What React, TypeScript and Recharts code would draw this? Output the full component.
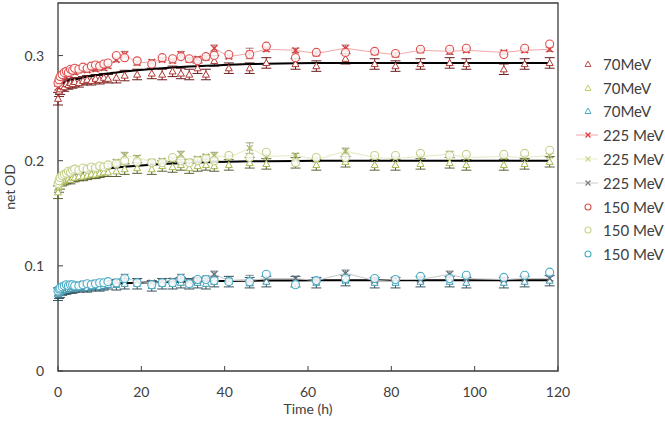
import React from 'react'
import { ScatterChart, Scatter, XAxis, YAxis, ErrorBar, ReferenceArea } from 'recharts'

// time points (h)
const times = [0, 0.25, 0.5, 1, 1.5, 2, 2.5, 3, 3.5, 4, 5, 6, 7, 8, 9, 10, 11, 12, 14, 16, 19, 22.5, 25, 27.5, 29.5, 31.5, 33.5, 35.5, 37.5, 41, 46, 50, 57, 62, 69, 76, 81, 87, 94, 98, 107, 112, 118]

const xTicks = [0, 20, 40, 60, 80, 100, 120]
const yTicks = [0, 0.1, 0.2, 0.3]

// fitted curves
const fitRed = [0.265, 0.268, 0.270, 0.273, 0.274, 0.275, 0.276, 0.2765, 0.277, 0.2775, 0.278, 0.279, 0.280, 0.2806, 0.2812, 0.2818, 0.2824, 0.283, 0.2838, 0.2848, 0.286, 0.2872, 0.288, 0.2886, 0.2891, 0.2895, 0.2899, 0.2903, 0.2906, 0.2912, 0.2919, 0.2923, 0.2927, 0.2929, 0.293, 0.293, 0.293, 0.293, 0.293, 0.293, 0.293, 0.293, 0.293]
const fitGreen = [0.176, 0.179, 0.181, 0.183, 0.184, 0.185, 0.186, 0.1865, 0.187, 0.1875, 0.188, 0.189, 0.1897, 0.1904, 0.191, 0.1916, 0.1921, 0.1926, 0.1935, 0.1943, 0.1953, 0.1962, 0.1968, 0.1973, 0.1977, 0.198, 0.1983, 0.1986, 0.1988, 0.1991, 0.1994, 0.1996, 0.1998, 0.1999, 0.2, 0.2, 0.2, 0.2, 0.2, 0.2, 0.2, 0.2, 0.2]
const fitBlue = [0.074, 0.0755, 0.0765, 0.0775, 0.078, 0.0785, 0.079, 0.0793, 0.0796, 0.0799, 0.0804, 0.0809, 0.0813, 0.0817, 0.082, 0.0823, 0.0826, 0.0828, 0.0832, 0.0835, 0.0839, 0.0843, 0.0846, 0.0848, 0.085, 0.0852, 0.0853, 0.0855, 0.0856, 0.0857, 0.0859, 0.086, 0.0861, 0.0862, 0.0862, 0.0862, 0.0862, 0.0862, 0.0862, 0.0862, 0.0862, 0.0862, 0.0862]

// 70MeV (triangles)
const tri70Red = [0.259, 0.266, 0.268, 0.271, 0.270, 0.273, 0.272, 0.274, 0.273, 0.275, 0.274, 0.276, 0.277, 0.276, 0.278, 0.277, 0.279, 0.278, 0.279, 0.281, 0.282, 0.283, 0.282, 0.285, 0.283, 0.282, 0.288, 0.282, 0.295, 0.288, 0.288, 0.293, 0.292, 0.290, 0.297, 0.292, 0.290, 0.292, 0.293, 0.292, 0.287, 0.292, 0.293]
const tri70Green = [0.170, 0.175, 0.178, 0.180, 0.181, 0.182, 0.183, 0.182, 0.184, 0.184, 0.185, 0.185, 0.186, 0.187, 0.187, 0.188, 0.189, 0.189, 0.190, 0.192, 0.193, 0.192, 0.195, 0.194, 0.196, 0.193, 0.195, 0.196, 0.195, 0.196, 0.198, 0.197, 0.198, 0.196, 0.199, 0.196, 0.196, 0.197, 0.198, 0.196, 0.196, 0.197, 0.199]
const tri70Blue = [0.073, 0.074, 0.075, 0.076, 0.077, 0.077, 0.078, 0.078, 0.078, 0.079, 0.079, 0.080, 0.079, 0.080, 0.081, 0.080, 0.081, 0.082, 0.082, 0.083, 0.083, 0.081, 0.083, 0.083, 0.084, 0.083, 0.084, 0.083, 0.085, 0.085, 0.084, 0.085, 0.085, 0.084, 0.086, 0.084, 0.084, 0.085, 0.085, 0.084, 0.084, 0.085, 0.086]

// 225 MeV (crosses)
const x225Red = [0.270, 0.275, 0.278, 0.280, 0.281, 0.283, 0.282, 0.284, 0.285, 0.284, 0.286, 0.287, 0.286, 0.288, 0.287, 0.289, 0.288, 0.290, 0.296, 0.301, 0.293, 0.294, 0.296, 0.295, 0.301, 0.296, 0.297, 0.298, 0.307, 0.299, 0.302, 0.306, 0.305, 0.302, 0.307, 0.303, 0.301, 0.305, 0.304, 0.305, 0.303, 0.305, 0.306]
const x225Green = [0.175, 0.179, 0.182, 0.185, 0.186, 0.187, 0.188, 0.188, 0.189, 0.190, 0.190, 0.191, 0.192, 0.193, 0.192, 0.194, 0.195, 0.195, 0.199, 0.205, 0.203, 0.199, 0.200, 0.201, 0.206, 0.199, 0.202, 0.204, 0.205, 0.203, 0.212, 0.204, 0.205, 0.201, 0.209, 0.203, 0.202, 0.204, 0.206, 0.203, 0.204, 0.203, 0.205]
const x225Gray = [0.075, 0.077, 0.078, 0.079, 0.080, 0.080, 0.081, 0.081, 0.082, 0.082, 0.082, 0.083, 0.082, 0.083, 0.084, 0.083, 0.084, 0.084, 0.085, 0.089, 0.085, 0.084, 0.085, 0.086, 0.089, 0.085, 0.086, 0.088, 0.092, 0.086, 0.086, 0.088, 0.088, 0.086, 0.093, 0.086, 0.087, 0.087, 0.092, 0.088, 0.087, 0.088, 0.088]

// 150 MeV (circles)
const c150Red = [0.274, 0.277, 0.280, 0.282, 0.284, 0.285, 0.284, 0.287, 0.286, 0.288, 0.287, 0.289, 0.288, 0.290, 0.291, 0.290, 0.292, 0.293, 0.300, 0.298, 0.295, 0.292, 0.298, 0.297, 0.299, 0.297, 0.295, 0.299, 0.300, 0.301, 0.301, 0.309, 0.298, 0.303, 0.303, 0.304, 0.302, 0.306, 0.306, 0.307, 0.301, 0.307, 0.311]
const c150Green = [0.178, 0.181, 0.184, 0.186, 0.187, 0.188, 0.190, 0.189, 0.191, 0.192, 0.191, 0.193, 0.192, 0.194, 0.193, 0.195, 0.194, 0.196, 0.197, 0.200, 0.199, 0.198, 0.198, 0.203, 0.200, 0.198, 0.200, 0.202, 0.200, 0.205, 0.203, 0.208, 0.198, 0.203, 0.203, 0.205, 0.205, 0.207, 0.205, 0.206, 0.206, 0.207, 0.210]
const c150Blue = [0.076, 0.078, 0.079, 0.080, 0.081, 0.082, 0.081, 0.082, 0.082, 0.081, 0.081, 0.082, 0.083, 0.082, 0.083, 0.084, 0.084, 0.085, 0.084, 0.088, 0.084, 0.082, 0.084, 0.084, 0.088, 0.083, 0.087, 0.087, 0.086, 0.085, 0.085, 0.092, 0.082, 0.086, 0.088, 0.088, 0.087, 0.090, 0.088, 0.091, 0.089, 0.091, 0.094]

// error bar half-widths
const errTri = [0.006, 0.005, 0.005, 0.004, 0.004, 0.004, 0.004, 0.004, 0.004, 0.004, 0.004, 0.004, 0.004, 0.004, 0.004, 0.004, 0.004, 0.004, 0.005, 0.005, 0.005, 0.005, 0.005, 0.005, 0.005, 0.005, 0.005, 0.005, 0.005, 0.005, 0.005, 0.005, 0.005, 0.005, 0.005, 0.005, 0.005, 0.005, 0.005, 0.005, 0.005, 0.005, 0.005]
const errX = [0.003, 0.002, 0.002, 0.002, 0.002, 0.002, 0.002, 0.002, 0.002, 0.002, 0.002, 0.002, 0.002, 0.002, 0.002, 0.002, 0.002, 0.002, 0.002, 0.003, 0.002, 0.002, 0.002, 0.002, 0.003, 0.002, 0.002, 0.002, 0.003, 0.002, 0.005, 0.002, 0.002, 0.002, 0.003, 0.002, 0.002, 0.002, 0.003, 0.002, 0.002, 0.002, 0.002]

const mk = (vals: number[], err?: number[]) => times.map((t, i) => ({ t, v: vals[i], e: err ? err[i] : 0 }))

const FONT = 'Lato, "Open Sans", sans-serif'
const TXT = '#404040'

const Tri = (color: string, r = 3.5) => (p: any) => (
  <path d={`M${p.cx},${p.cy - r}L${p.cx + r},${p.cy + r * 0.75}L${p.cx - r},${p.cy + r * 0.75}Z`} fill="#fff" stroke={color} strokeWidth={1} />
)
const Cross = (color: string, r = 3) => (p: any) => (
  <path d={`M${p.cx - r},${p.cy - r}L${p.cx + r},${p.cy + r}M${p.cx - r},${p.cy + r}L${p.cx + r},${p.cy - r}`} stroke={color} strokeWidth={1.2} fill="none" />
)
const Circ = (color: string, r = 4) => (p: any) => (
  <circle cx={p.cx} cy={p.cy} r={r} fill="#fff" fillOpacity={0.85} stroke={color} strokeWidth={1.1} />
)
const NoDot = () => <g />

const XTick = (p: any) => (
  <g>
    <line x1={p.x} y1={p.y} x2={p.x} y2={p.y - 5} stroke={TXT} strokeWidth={1} />
    <text x={p.x} y={p.y + 26} textAnchor="middle" fill={TXT} fontSize={14} fontFamily={FONT}>{p.payload.value}</text>
  </g>
)
const YTick = (p: any) => (
  <g>
    <line x1={p.x} y1={p.y} x2={p.x + 5} y2={p.y} stroke={TXT} strokeWidth={1} />
    <text x={p.x - 14} y={p.y + 5} textAnchor="end" fill={TXT} fontSize={14} fontFamily={FONT}>{p.payload.value}</text>
  </g>
)

const legendItems = [
  { name: '70MeV', kind: 'tri', color: '#C0504D' },
  { name: '70MeV', kind: 'tri', color: '#C3CF6A' },
  { name: '70MeV', kind: 'tri', color: '#4BACC6' },
  { name: '225 MeV', kind: 'x', color: '#E33B3B', line: '#F2A7A7' },
  { name: '225 MeV', kind: 'x', color: '#C9D98F', line: '#E6EDC8' },
  { name: '225 MeV', kind: 'x', color: '#7F7F7F', line: '#CCCCCC' },
  { name: '150 MeV', kind: 'o', color: '#D9534F' },
  { name: '150 MeV', kind: 'o', color: '#CCD68E' },
  { name: '150 MeV', kind: 'o', color: '#4BACC6' },
]

function LegendBox() {
  return (
    <div style={{ position: 'absolute', left: 574, top: 52, fontFamily: FONT, fontSize: 15, color: TXT }}>
      {legendItems.map((it, i) => (
        <div key={i} style={{ display: 'flex', alignItems: 'center', height: 23.8 }}>
          <svg width={26} height={14} style={{ marginRight: 3 }}>
            {it.line && <line x1={2} y1={7} x2={24} y2={7} stroke={it.line} strokeWidth={1} />}
            {it.kind === 'tri' && <path d="M14,4L17,9.5L11,9.5Z" fill="#fff" stroke={it.color} strokeWidth={1} />}
            {it.kind === 'x' && <path d="M11.5,4.5L16.5,9.5M11.5,9.5L16.5,4.5" stroke={it.color} strokeWidth={1.3} />}
            {it.kind === 'o' && <circle cx={14} cy={7} r={3} fill="#fff" stroke={it.color} strokeWidth={1.1} />}
          </svg>
          <span>{it.name}</span>
        </div>
      ))}
    </div>
  )
}

export default function App() {
  return (
    <div style={{ position: 'absolute', left: 0, top: 0, width: 665, height: 425, background: '#fff' }}>
      <ScatterChart width={665} height={425} margin={{ top: 3, right: 107, bottom: 0, left: 0 }}>
        <XAxis
          type="number"
          dataKey="t"
          domain={[0, 120]}
          ticks={xTicks}
          height={54}
          axisLine={false}
          tickLine={false}
          tickSize={0}
          tickMargin={0}
          tick={XTick}
          interval={0}
        />
        <YAxis
          type="number"
          dataKey="v"
          domain={[0, 0.35]}
          ticks={yTicks}
          width={58}
          axisLine={false}
          tickLine={false}
          tickSize={0}
          tickMargin={0}
          tick={YTick}
          interval={0}
        />
        <ReferenceArea x1={0} x2={120} y1={0} y2={0.35} fill="none" stroke="#3A3A3A" strokeWidth={1.3} />

        <Scatter data={mk(fitRed)} line={{ stroke: '#000', strokeWidth: 2 }} lineType="joint" shape={NoDot} isAnimationActive={false} />
        <Scatter data={mk(fitGreen)} line={{ stroke: '#000', strokeWidth: 2 }} lineType="joint" shape={NoDot} isAnimationActive={false} />
        <Scatter data={mk(fitBlue)} line={{ stroke: '#000', strokeWidth: 2 }} lineType="joint" shape={NoDot} isAnimationActive={false} />

        <Scatter data={mk(tri70Red, errTri)} shape={Tri('#B03A36')} isAnimationActive={false}>
          <ErrorBar dataKey="e" direction="y" width={5} stroke="#6B1E1E" strokeWidth={1} />
        </Scatter>
        <Scatter data={mk(tri70Green, errTri)} shape={Tri('#A9B84C')} isAnimationActive={false}>
          <ErrorBar dataKey="e" direction="y" width={5} stroke="#5E6138" strokeWidth={1} />
        </Scatter>
        <Scatter data={mk(tri70Blue, errTri)} shape={Tri('#3F97B0')} isAnimationActive={false}>
          <ErrorBar dataKey="e" direction="y" width={5} stroke="#34505E" strokeWidth={1} />
        </Scatter>

        <Scatter data={mk(x225Red, errX)} line={{ stroke: '#F2A7A7', strokeWidth: 1 }} lineType="joint" shape={Cross('#D93535')} isAnimationActive={false}>
          <ErrorBar dataKey="e" direction="y" width={4} stroke="#A05050" strokeWidth={0.8} />
        </Scatter>
        <Scatter data={mk(x225Green, errX)} line={{ stroke: '#E2EAC2', strokeWidth: 1 }} lineType="joint" shape={Cross('#A8B86A')} isAnimationActive={false}>
          <ErrorBar dataKey="e" direction="y" width={4} stroke="#8A8F60" strokeWidth={0.8} />
        </Scatter>
        <Scatter data={mk(x225Gray, errX)} line={{ stroke: '#C8C8C8', strokeWidth: 1 }} lineType="joint" shape={Cross('#5F6F7A')} isAnimationActive={false}>
          <ErrorBar dataKey="e" direction="y" width={4} stroke="#5A6A76" strokeWidth={0.8} />
        </Scatter>

        <Scatter data={mk(c150Red)} shape={Circ('#E05050')} isAnimationActive={false} />
        <Scatter data={mk(c150Green)} shape={Circ('#C5D08A')} isAnimationActive={false} />
        <Scatter data={mk(c150Blue)} shape={Circ('#4BACC6')} isAnimationActive={false} />
      </ScatterChart>
      <div style={{ position: 'absolute', left: 258, top: 402, width: 100, lineHeight: '14px', textAlign: 'center', fontFamily: FONT, fontSize: 14, color: TXT }}>Time (h)</div>
      <div style={{ position: 'absolute', left: -40, top: 180, width: 100, lineHeight: '14px', textAlign: 'center', fontFamily: FONT, fontSize: 14, color: TXT, transform: 'rotate(-90deg)' }}>net OD</div>
      <LegendBox />
    </div>
  )
}
